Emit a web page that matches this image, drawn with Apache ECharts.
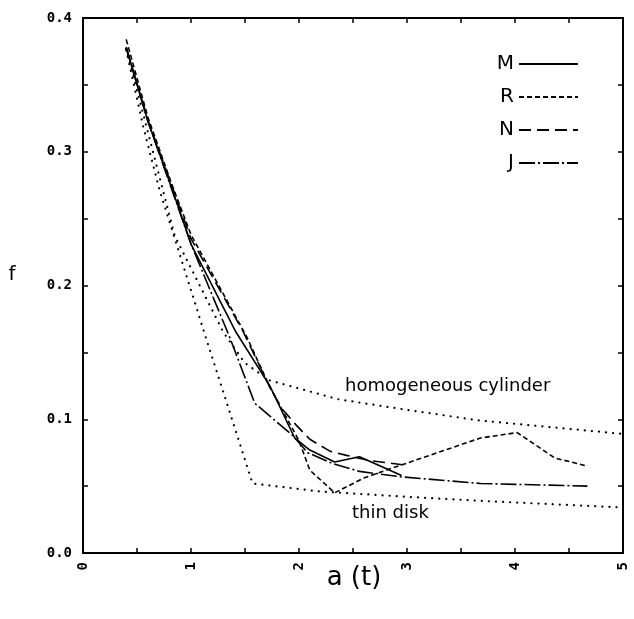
<!DOCTYPE html>
<html>
<head>
<meta charset="utf-8">
<script src="https://cdn.jsdelivr.net/npm/echarts@6/dist/echarts.min.js"></script>
<style>
html,body{margin:0;padding:0;background:#fff;}
#chart{width:634px;height:619px;}
</style>
</head>
<body>
<div id="chart"></div>
<script>
// ---- data ----
const xTickLabels = ['0','1','2','3','4','5'];
const yTickLabels = ['0.0','0.1','0.2','0.3','0.4'];
const seriesNames = ['M','R','N','J'];

const M = [[0.4,0.378],[0.6,0.323],[0.83,0.271],[1.0,0.231],[1.41,0.166],[1.73,0.125],[1.96,0.086],[2.1,0.077],[2.33,0.068],[2.56,0.072],[2.95,0.058]];
const R = [[0.4,0.384],[0.6,0.326],[0.83,0.274],[1.0,0.238],[1.52,0.161],[1.73,0.124],[2.0,0.084],[2.1,0.062],[2.33,0.045],[2.6,0.056],[2.81,0.062],[3.21,0.073],[3.68,0.086],[4.02,0.090],[4.37,0.071],[4.67,0.065]];
const N = [[0.4,0.378],[0.6,0.324],[0.83,0.273],[1.0,0.235],[1.48,0.166],[1.73,0.124],[1.84,0.108],[1.97,0.096],[2.1,0.085],[2.29,0.076],[2.44,0.073],[2.66,0.069],[2.96,0.066]];
const J = [[0.4,0.378],[0.6,0.323],[0.83,0.27],[1.0,0.231],[1.36,0.161],[1.59,0.112],[1.94,0.088],[2.08,0.075],[2.31,0.067],[2.56,0.061],[2.94,0.057],[3.68,0.052],[4.67,0.050]];
const thinDisk = [[0.4,0.376],[0.56,0.318],[0.71,0.271],[1.13,0.163],[1.57,0.052],[2.19,0.046],[3.0,0.042],[3.68,0.039],[5.0,0.034]];
const cylinder = [[0.4,0.377],[0.6,0.315],[0.85,0.237],[1.3,0.165],[1.5,0.142],[1.73,0.129],[2.36,0.115],[3.0,0.107],[3.68,0.099],[5.0,0.089]];

const chart = echarts.init(document.getElementById('chart'), null, {renderer:'canvas'});
const axisFont = {fontFamily:'DejaVu Sans Mono', fontWeight:'bold', fontSize:14, color:'#000'};
const axisLine = {show:true, onZero:false, lineStyle:{color:'#000', width:2}};
const tick = {show:true, inside:true, length:5, lineStyle:{color:'#000', width:1.5}};

function lineSeries(name, data, type, width, cap) {
  return {
    name: name, type:'line', data:data, symbol:'none', smooth:false,
    xAxisIndex:0, yAxisIndex:0,
    lineStyle:{color:'#000', width:width, type:type, cap:cap || 'butt'},
    itemStyle:{color:'#000'},
    silent:true, animation:false
  };
}

const option = {
  animation:false,
  backgroundColor:'#fff',
  grid:{left:83, right:11, top:18, bottom:66, containLabel:false},
  xAxis:[
    {type:'value', min:0, max:5, interval:0.5, position:'bottom',
     axisLine:axisLine, axisTick:tick, splitLine:{show:false},
     axisLabel:Object.assign({rotate:90, margin:9,
       formatter:function(v){ const i=Math.round(v*2); return i%2===0 ? xTickLabels[i/2] : ''; }}, axisFont)},
    {type:'value', min:0, max:5, interval:0.5, position:'top',
     axisLine:axisLine, axisTick:tick, splitLine:{show:false}, axisLabel:{show:false}}
  ],
  yAxis:[
    {type:'value', min:0, max:0.4, interval:0.05, position:'left',
     axisLine:axisLine, axisTick:tick, splitLine:{show:false},
     axisLabel:Object.assign({margin:11,
       formatter:function(v){ const i=Math.round(v*20); return i%2===0 ? yTickLabels[i/2] : ''; }}, axisFont)},
    {type:'value', min:0, max:0.4, interval:0.05, position:'right',
     axisLine:axisLine, axisTick:tick, splitLine:{show:false}, axisLabel:{show:false}}
  ],
  legend:{
    data:seriesNames.map(function(n){ return {name:n, itemStyle:{opacity:0}}; }),
    orient:'vertical', right:50, top:49, align:'right',
    itemWidth:59, itemHeight:14, itemGap:13,
    itemStyle:{opacity:0},
    textStyle:{fontFamily:'DejaVu Sans', fontSize:20, color:'#000'},
    selectedMode:false
  },
  series:[
    lineSeries('M', M, 'solid', 1.6),
    lineSeries('R', R, [5,3], 1.6),
    lineSeries('N', N, [12,6], 1.6),
    lineSeries('J', J, [16,3,2,3], 1.6),
    lineSeries('thin disk', thinDisk, [0.1,7], 2.2, 'round'),
    lineSeries('homogeneous cylinder', cylinder, [0.1,7], 2.2, 'round')
  ],
  graphic:[
    {type:'text', x:345, y:386, style:{text:'homogeneous cylinder', fontFamily:'DejaVu Sans', fontSize:18, fill:'#000', verticalAlign:'middle'}},
    {type:'text', x:352, y:513, style:{text:'thin disk', fontFamily:'DejaVu Sans', fontSize:18, fill:'#000', verticalAlign:'middle'}},
    {type:'text', x:354, y:578, style:{text:'a (t)', fontFamily:'DejaVu Sans', fontSize:26, fill:'#000', align:'center', verticalAlign:'middle'}},
    {type:'text', x:12, y:275, style:{text:'f', fontFamily:'DejaVu Sans', fontSize:20, fill:'#000', align:'center', verticalAlign:'middle'}}
  ]
};
chart.setOption(option);
</script>
</body>
</html>
